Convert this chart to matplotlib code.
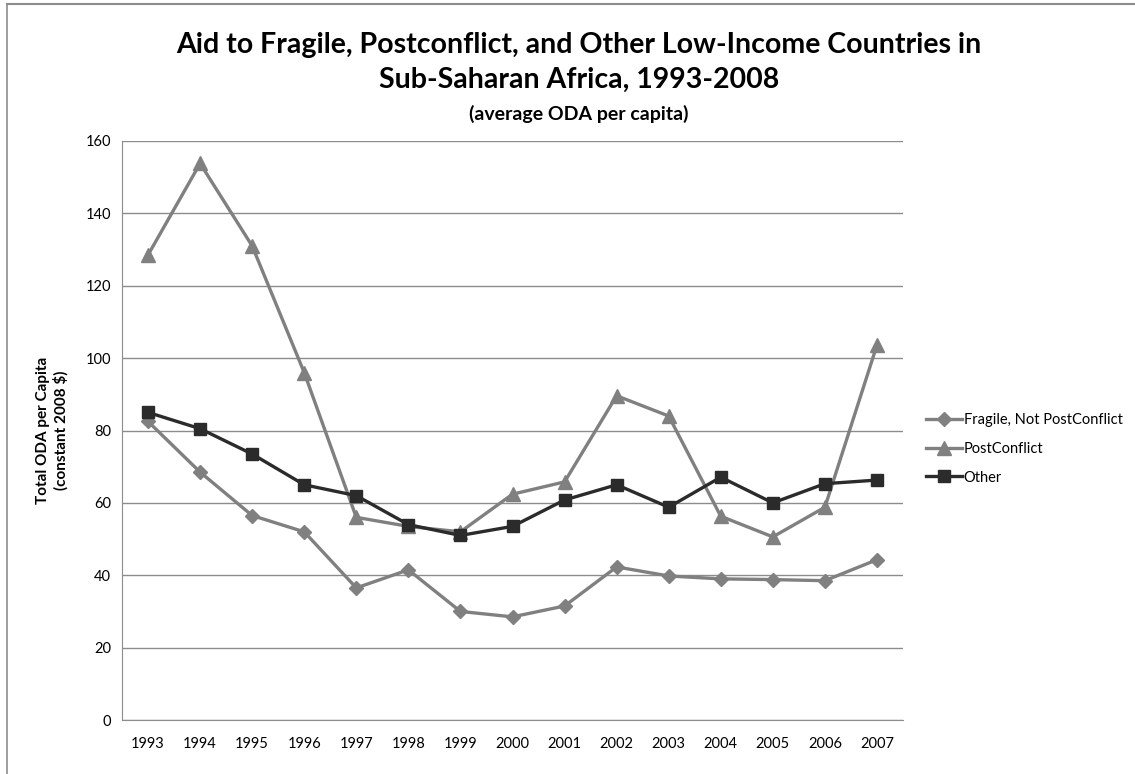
import matplotlib
matplotlib.use("Agg")
import matplotlib.pyplot as plt
from matplotlib.lines import Line2D

plt.rcParams['font.family'] = ['Lato', 'DejaVu Sans']

# data
years = ['1993', '1994', '1995', '1996', '1997', '1998', '1999', '2000',
         '2001', '2002', '2003', '2004', '2005', '2006', '2007']
fragile = [82.5, 68.5, 56.5, 52.0, 36.5, 41.5, 30.0, 28.5,
           31.5, 42.3, 39.8, 39.0, 38.8, 38.5, 44.3]
postconflict = [128.5, 153.8, 131.0, 96.0, 56.0, 53.5, 52.0, 62.4,
                65.8, 89.6, 84.0, 56.3, 50.6, 58.8, 103.6]
other = [85.0, 80.5, 73.5, 65.0, 62.0, 54.0, 51.0, 53.5,
         60.8, 65.0, 58.8, 67.1, 60.0, 65.3, 66.3]

W, H = 1135, 774
fig = plt.figure(figsize=(W / 100, H / 100), dpi=100)
ax = fig.add_axes([122 / W, 1 - 720 / H, (903 - 122) / W, (720 - 141) / H])

x = list(range(len(years)))
gray = '#808080'
dark = '#2b2b2b'
ax.plot(x, fragile, color=gray, lw=2.4, marker='D', ms=7, label='Fragile, Not PostConflict', zorder=3)
ax.plot(x, postconflict, color=gray, lw=2.4, marker='^', ms=10, label='PostConflict', zorder=3)
ax.plot(x, other, color=dark, lw=2.4, marker='s', ms=9, label='Other', zorder=4)

ax.set_xlim(-0.5, len(years) - 0.5)
ax.set_ylim(0, 160)
ax.set_yticks(range(0, 161, 20))
ax.set_xticks(x)
ax.set_xticklabels(years)
ax.tick_params(axis='both', length=0, labelsize=10.5, colors='black')
ax.tick_params(axis='x', pad=12)
ax.tick_params(axis='y', pad=8)
ax.grid(axis='y', color='#8c8c8c', lw=1)
ax.set_axisbelow(True)
for s in ['top', 'right']:
    ax.spines[s].set_visible(False)
ax.spines['left'].set_color('#8c8c8c')
ax.spines['bottom'].set_color('#8c8c8c')

ax.set_ylabel('Total ODA per Capita\n(constant 2008 $)', fontsize=11,
              fontweight='bold', labelpad=12, linespacing=1.25)

fig.text(0.51, 1 - 45 / H, 'Aid to Fragile, Postconflict, and Other Low-Income Countries in',
         ha='center', va='center', fontsize=20.5, fontweight='bold')
fig.text(0.51, 1 - 80 / H, 'Sub-Saharan Africa, 1993-2008',
         ha='center', va='center', fontsize=20.5, fontweight='bold')
fig.text(0.51, 1 - 114 / H, '(average ODA per capita)',
         ha='center', va='center', fontsize=14, fontweight='bold')

ax.legend(loc='center left', bbox_to_anchor=(920 / W, 1 - 449 / H),
          bbox_transform=fig.transFigure, frameon=False, fontsize=10.5,
          handlelength=2.5, labelspacing=1.0, handletextpad=0.1,
          borderaxespad=0)

# outer chart frame (left and top edges visible)
fig.add_artist(Line2D([7 / W, 7 / W], [0, 1 - 4 / H], color='#8c8c8c', lw=1.2))
fig.add_artist(Line2D([7 / W, 1 - 0.5 / W], [1 - 4 / H, 1 - 4 / H], color='#8c8c8c', lw=1.5))

fig.savefig('out.png', dpi=100, facecolor='white')
